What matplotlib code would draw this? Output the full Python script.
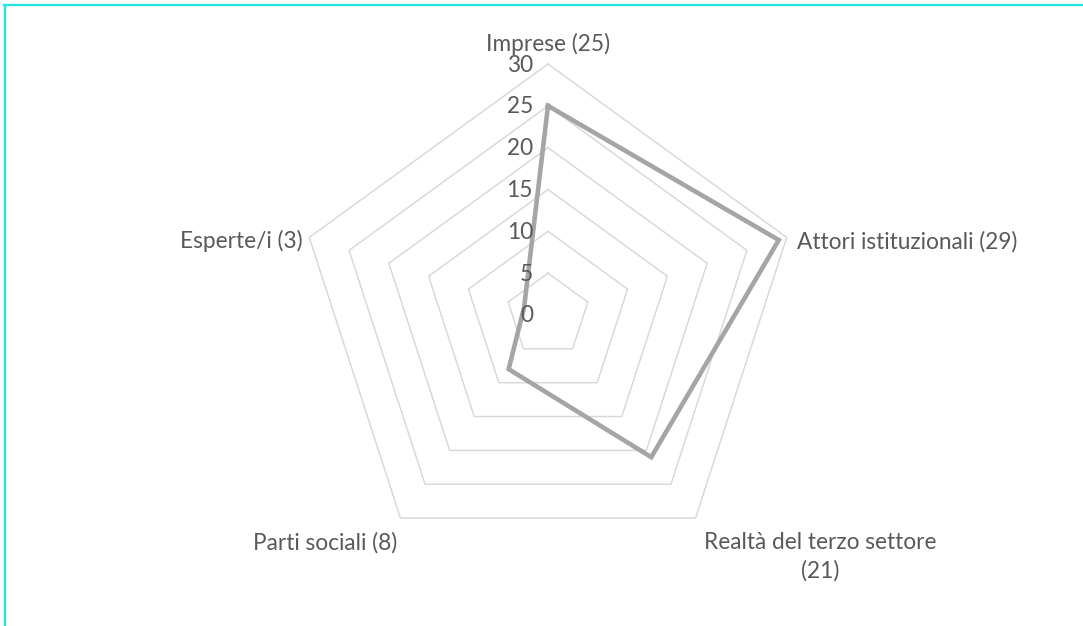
import numpy as np
import matplotlib
matplotlib.use("Agg")
import matplotlib.pyplot as plt
from matplotlib.lines import Line2D

categories = ["Imprese (25)", "Attori istituzionali (29)", "Realtà del terzo settore\n(21)",
              "Parti sociali (8)", "Esperte/i (3)"]
values = [25, 29, 21, 8, 3]
rticks = [0, 5, 10, 15, 20, 25, 30]

plt.rcParams['font.family'] = ['Lato', 'DejaVu Sans']
W, H = 1083, 626
fig = plt.figure(figsize=(W / 100, H / 100), dpi=100)
fig.patch.set_facecolor('white')

cx, cy, R = 548, 315, 251
ax = fig.add_axes([(cx - R) / W, (H - cy - R) / H, 2 * R / W, 2 * R / H], projection='polar')
ax.set_theta_offset(np.pi / 2)
ax.set_theta_direction(-1)
ax.set_ylim(0, 30)
ax.grid(False)
ax.spines['polar'].set_visible(False)
ax.set_xticks([])
ax.set_yticks([])
ax.patch.set_alpha(0)

n = len(categories)
theta = np.arange(n) * 2 * np.pi / n
theta_c = np.append(theta, theta[0])

# pentagon gridlines
for r in rticks[1:]:
    ax.plot(theta_c, [r] * (n + 1), color='#d9d9d9', lw=1.1, zorder=1, clip_on=False)

# data
vals_c = values + [values[0]]
ax.plot(theta_c, vals_c, color='#a5a5a5', lw=3.3, zorder=3, solid_joinstyle='miter', clip_on=False)

txtc = '#595959'
fs = 16.3
for r in rticks:
    ax.annotate(str(r), xy=(0, r), xytext=(-15, -1), textcoords='offset pixels',
                ha='right', va='center', fontsize=fs, color=txtc, annotation_clip=False)

offsets = [(0, 9, 'center', 'bottom'),
           (10, -4, 'left', 'center'),
           (8, -14, 'left', 'top'),
           (-3, -14, 'right', 'top'),
           (-7, -4, 'right', 'center')]
for i, lab in enumerate(categories):
    dx, dy, ha, va = offsets[i]
    ax.annotate(lab, xy=(theta[i], 30), xytext=(dx, dy), textcoords='offset pixels',
                ha=ha, va=va, fontsize=fs, color=txtc, multialignment='center',
                linespacing=1.4, annotation_clip=False)

# cyan border (top and left)
fig.add_artist(Line2D([4 / W, 1], [1 - 5 / H, 1 - 5 / H], transform=fig.transFigure,
                      color='#22e6e6', lw=1.6))
fig.add_artist(Line2D([5 / W, 5 / W], [0, 1 - 5 / H], transform=fig.transFigure,
                      color='#22e6e6', lw=1.6))

fig.savefig('out.png', dpi=100)
